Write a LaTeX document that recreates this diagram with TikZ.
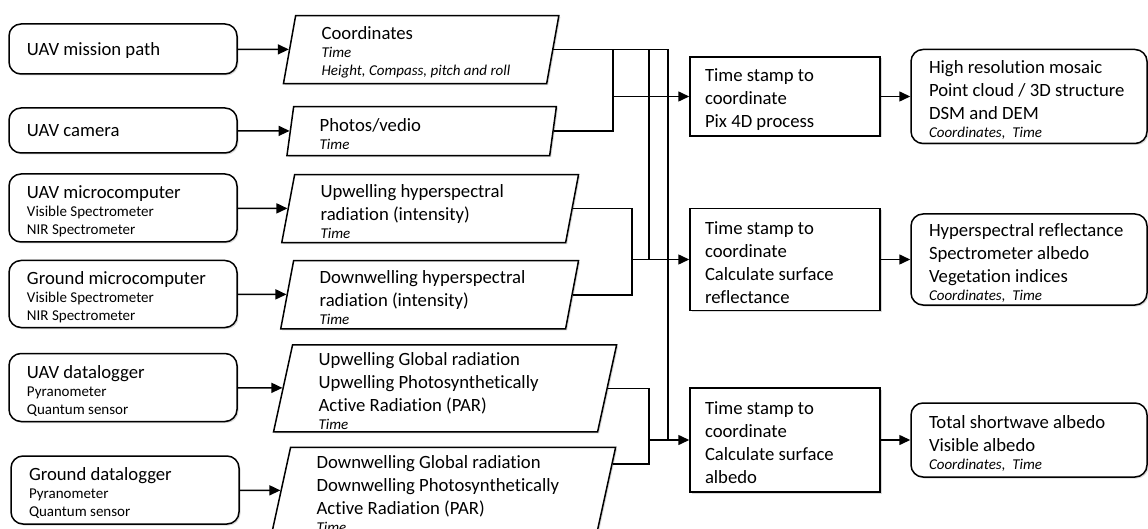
\documentclass[tikz,border=0pt]{standalone}
\usepackage{fontspec}
\setmainfont{Carlito}[Ligatures=NoCommon]
\usepackage{tikz}
\usetikzlibrary{arrows.meta,shapes.geometric,shadows,calc}
\newcommand{\bigtxt}{\fontsize{18.7}{23}\selectfont}
\newcommand{\smtxt}{\fontsize{15}{18}\selectfont}
\newcommand{\ittxt}{\fontsize{15}{18}\selectfont\itshape}
\newcommand{\lowend}{\par\vspace{-6pt}}

\begin{document}
\begin{tikzpicture}[x=1pt,y=-1pt,
        boxshadow/.style={fill=white, drop shadow={shadow xshift=1.5pt, shadow yshift=-1.5pt, opacity=0.3}},
        lowtext/.style={execute at end node=\lowend},
        src/.style={draw, line width=1.5pt, rounded corners=12pt, boxshadow, lowtext, font=\bigtxt, align=flush left, text width=192pt, inner xsep=18pt, inner ysep=0pt, minimum height=#1},
        dat/.style 2 args={draw, line width=1.5pt, boxshadow, lowtext, trapezium, trapezium left angle=75, trapezium right angle=105, trapezium stretches=true, anchor=top left corner, font=\bigtxt, align=flush left, inner xsep=26pt, inner ysep=0pt, text width=#1, minimum height=#2},
        proc/.style={draw, line width=1.5pt, boxshadow, lowtext, font=\bigtxt, align=flush left, text width=160pt, inner xsep=15pt, inner ysep=0pt, minimum height=#1},
        res/.style={draw, line width=1.5pt, rounded corners=12pt, boxshadow, lowtext, font=\bigtxt, align=flush left, text width=200pt, inner xsep=18pt, inner ysep=0pt, minimum height=#1},
        wire/.style={line width=1.5pt},
        arr/.style={line width=1.5pt, -{Triangle[length=11pt,width=10pt]}}]
    \useasboundingbox (0,0) rectangle (1148,529);

    % sources
    \node[src=50pt] (mission) at (123,49) {UAV mission path};
    \node[src=45pt] (camera) at (123,130.5) {UAV camera};
    \node[src=68pt] (uavpc) at (123,208) {UAV microcomputer\\\smtxt Visible Spectrometer\\NIR Spectrometer\par};
    \node[src=67pt] (gndpc) at (123,294) {Ground microcomputer\\\smtxt Visible Spectrometer\\NIR Spectrometer\par};
    \node[src=68pt] (uavlog) at (123,387.5) {UAV datalogger\\\smtxt Pyranometer\\Quantum sensor\par};
    \node[src=68pt] (gndlog) at (125,490) {Ground datalogger\\\smtxt Pyranometer\\Quantum sensor\par};

    % data
    \node[dat={199pt}{68pt}] (coord) at (295,15) {Coordinates\\\ittxt Time\\Height, Compass, pitch and roll\par};
    \node[dat={204pt}{49pt}] (photo) at (293,106) {Photos/vedio\\\ittxt Time\par};
    \node[dat={219pt}{68pt}] (uphyp) at (294,174) {Upwelling hyperspectral\\radiation (intensity)\\\ittxt Time\par};
    \node[dat={220pt}{68pt}] (dnhyp) at (293,260) {Downwelling hyperspectral\\radiation (intensity)\\\ittxt Time\par};
    \node[dat={253pt}{87pt}] (upglob) at (292,344) {Upwelling Global radiation\\Upwelling Photosynthetically\\Active Radiation (PAR)\\\ittxt Time\par};
    \node[dat={254pt}{87pt}] (dnglob) at (290,446.5) {Downwelling Global radiation\\Downwelling Photosynthetically\\Active Radiation (PAR)\\\ittxt Time\par};

    % processing and results
    \node[proc=79pt] (pix) at (785,96.5) {Time stamp to\\coordinate\\Pix 4D process};
    \node[proc=102pt] (refl) at (785,259.5) {Time stamp to\\coordinate\\Calculate surface\\reflectance};
    \node[proc=104pt] (albd) at (785,440) {Time stamp to\\coordinate\\Calculate surface\\albedo};
    \node[res=94pt] (mosaic) at (1029,96.5) {High resolution mosaic\\Point cloud / 3D structure\\DSM and DEM\\\ittxt Coordinates,~ Time\par};
    \node[res=91pt] (hyref) at (1029,259.5) {Hyperspectral reflectance\\Spectrometer albedo\\Vegetation indices\\\ittxt Coordinates,~ Time\par};
    \node[res=74pt] (swalb) at (1029,440) {Total shortwave albedo\\Visible albedo\\\ittxt Coordinates,~ Time\par};

    \coordinate (ja) at (613,0);
    \coordinate (jb) at (649,0);
    \coordinate (jc) at (668,0);
    \coordinate (jd) at (632,0);
    \coordinate (dnout) at ($(dnglob.top right corner)!0.2!(dnglob.bottom right corner)$);

    \foreach \a/\b in {mission/coord, camera/photo, uavpc/uphyp, gndpc/dnhyp, uavlog/upglob, gndlog/dnglob, pix/mosaic, refl/hyref, albd/swalb}
        \draw[arr] (\a) -- (\b);

    \draw[wire] (coord.right side) -| (jc |- albd.west);
    \draw[wire] (photo.right side) -| (ja |- coord.right side);
    \draw[arr] (ja |- pix.west) -- (pix.west);
    \draw[wire] (jb |- coord.right side) -- (jb |- refl.west);
    \draw[wire] (uphyp.right side) -| (jd |- refl.west) |- (dnhyp.right side);
    \draw[arr] (jd |- refl.west) -- (refl.west);
    \draw[wire] (upglob.right side) -| (jb |- albd.west) |- (dnout);
    \draw[arr] (jb |- albd.west) -- (albd.west);
\end{tikzpicture}
\end{document}
